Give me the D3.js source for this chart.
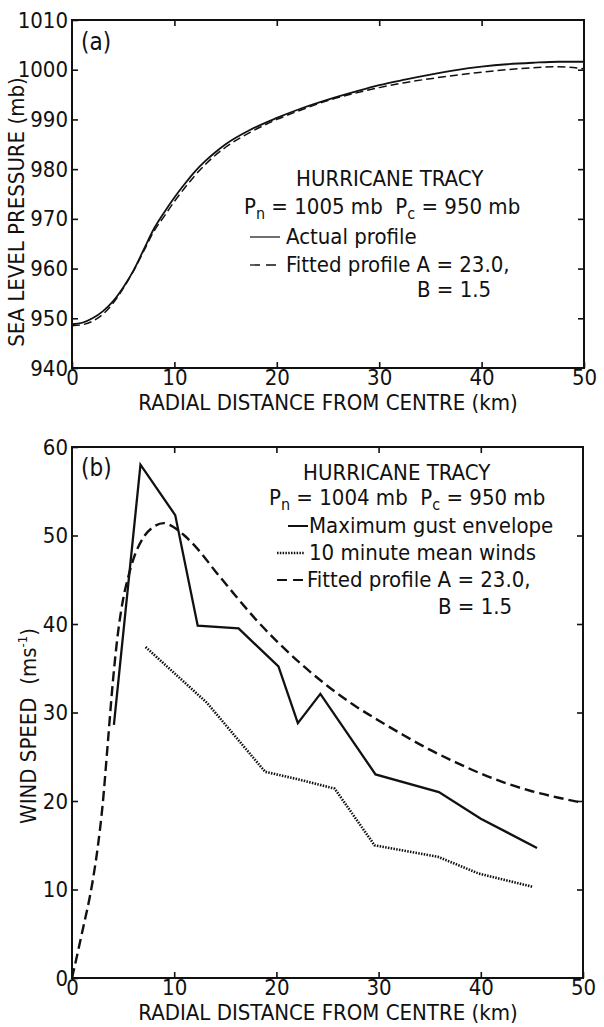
<!DOCTYPE html>
<html>
<head>
<meta charset="utf-8">
<script src="https://cdn.jsdelivr.net/npm/d3@7"></script>
<style>
  body { margin: 0; background: #fff; }
  svg text { font-family: "DejaVu Sans Condensed", "Liberation Sans Narrow", "Liberation Sans", sans-serif; fill: #111; white-space: pre; }
</style>
</head>
<body>
<div id="wrapper"></div>
<script>
// ---- data ----
// (a) sea level pressure profile
const pressureRadius = [0, 1, 2, 3, 4, 5, 6, 7, 8, 9, 10, 11, 12, 13, 14, 15, 17.5, 20, 22.5, 25, 27.5, 30, 32.5, 35, 37.5, 40, 42.5, 45, 47.5, 50]
const pressureActual = [948.8, 949.1, 950.0, 951.4, 953.4, 956.2, 959.6, 963.8, 968.0, 971.3, 974.3, 977.0, 979.5, 981.6, 983.4, 985.0, 988.0, 990.3, 992.3, 994.0, 995.5, 996.9, 998.0, 999.0, 999.9, 1000.6, 1001.1, 1001.4, 1001.6, 1001.6]
const pressureFitted = [948.5, 948.7, 949.4, 950.8, 953.0, 956.0, 959.5, 963.5, 967.5, 970.5, 973.5, 976.2, 978.7, 980.9, 982.8, 984.4, 987.5, 990.0, 992.0, 993.8, 995.2, 996.4, 997.4, 998.2, 998.9, 999.5, 1000.0, 1000.4, 1000.6, 1000.2]

// (b) wind speed profile
const gustRadius = [4.1, 6.7, 10.1, 12.3, 16.3, 20.2, 22.1, 24.3, 29.7, 35.9, 40.0, 45.5]
const gustSpeed = [28.6, 58.0, 52.3, 39.8, 39.5, 35.2, 28.8, 32.1, 23.0, 21.0, 18.0, 14.7]
const meanRadius = [7.2, 13.2, 18.9, 22.3, 25.7, 29.6, 35.8, 39.8, 45.1]
const meanSpeed = [37.4, 31.1, 23.3, 22.4, 21.4, 15.0, 13.7, 11.8, 10.3]
const fitRadius = [0, 1, 2, 2.5, 3, 3.5, 4, 4.5, 5, 5.5, 6, 7, 8, 9, 10, 11, 12.5, 14, 16, 18, 20, 22.5, 25, 27.5, 30, 32.5, 35, 37.5, 40, 42.5, 45, 47.5, 50]
const fitSpeed = [0, 5.2, 10.8, 14.6, 19.6, 26.5, 33.5, 39.0, 42.8, 45.3, 47.3, 49.8, 51.0, 51.4, 50.9, 50.0, 48.2, 46.0, 43.2, 40.5, 38.1, 35.4, 33.0, 30.9, 29.1, 27.4, 25.8, 24.4, 23.1, 22.0, 21.1, 20.4, 19.8]

const distanceTicks = [0, 10, 20, 30, 40, 50]
const pressureTicks = [940, 950, 960, 970, 980, 990, 1000, 1010]
const speedTicks = [0, 10, 20, 30, 40, 50, 60]

// ---- canvas ----
const width = 604
const height = 1027
const fontSize = 22

const svg = d3.select("#wrapper")
    .append("svg")
        .attr("width", width)
        .attr("height", height)

function drawFrame(g, xScale, yScale, w, h, yTicks) {
    // inward ticks on all four sides
    g.append("g")
        .call(d3.axisLeft(yScale).tickValues(yTicks).tickSize(-6).tickPadding(4).tickFormat(d3.format("d")))
    const bottom = g.append("g")
        .attr("transform", `translate(0,${h})`)
        .call(d3.axisBottom(xScale).tickValues(distanceTicks).tickSize(-6).tickPadding(4))
    g.append("g")
        .attr("transform", `translate(${w},0)`)
        .call(d3.axisRight(yScale).tickValues(yTicks.slice(1, -1)).tickSize(-6).tickFormat(""))
    g.append("g")
        .call(d3.axisTop(xScale).tickValues(distanceTicks.slice(1, -1)).tickSize(-6).tickFormat(""))

    g.selectAll(".domain").remove()
    g.selectAll(".tick line").attr("stroke", "#111").attr("stroke-width", 1.6)
    g.selectAll(".tick text")
        .attr("font-size", fontSize)
        .attr("font-family", null)
    bottom.selectAll(".tick text").attr("dy", "0.6em")

    g.append("rect")
        .attr("width", w)
        .attr("height", h)
        .attr("fill", "none")
        .attr("stroke", "#111")
        .attr("stroke-width", 2)
}

function legendLine(g, x1, x2, y, dash, sw) {
    g.append("line")
        .attr("x1", x1).attr("x2", x2)
        .attr("y1", y).attr("y2", y)
        .attr("stroke", "#111")
        .attr("stroke-width", sw)
        .attr("stroke-dasharray", dash)
}

function pressureLabel(g, x, y, pn) {
    const t = g.append("text").attr("x", x).attr("y", y).attr("font-size", fontSize)
    t.append("tspan").text("P")
    t.append("tspan").attr("font-size", 16).attr("dy", 5).text("n")
    t.append("tspan").attr("dy", -5).text(` = ${pn} mb  P`)
    t.append("tspan").attr("font-size", 16).attr("dy", 5).text("c")
    t.append("tspan").attr("dy", -5).text(" = 950 mb")
}

// ---- panel (a) ----
const a = { left: 72, top: 20, right: 584, bottom: 368 }
const aW = a.right - a.left
const aH = a.bottom - a.top
const boundsA = svg.append("g").attr("transform", `translate(${a.left},${a.top})`)

const xA = d3.scaleLinear().domain([0, 50]).range([0, aW])
const yA = d3.scaleLinear().domain([940, 1010]).range([aH, 0])

const pressureLine = d3.line()
    .x(d => xA(d[0]))
    .y(d => yA(d[1]))
    .curve(d3.curveMonotoneX)

boundsA.append("path")
    .attr("d", pressureLine(d3.zip(pressureRadius, pressureFitted)))
    .attr("fill", "none")
    .attr("stroke", "#111")
    .attr("stroke-width", 1.5)
    .attr("stroke-dasharray", "8,4")
boundsA.append("path")
    .attr("d", pressureLine(d3.zip(pressureRadius, pressureActual)))
    .attr("fill", "none")
    .attr("stroke", "#111")
    .attr("stroke-width", 1.8)

drawFrame(boundsA, xA, yA, aW, aH, pressureTicks)

svg.append("text").attr("x", 81).attr("y", 50).attr("font-size", 24).text("(a)")
svg.append("text").attr("x", 296).attr("y", 186).attr("font-size", fontSize).text("HURRICANE TRACY")
pressureLabel(svg, 244, 214, 1005)
legendLine(svg, 250, 280, 237, null, 1.2)
svg.append("text").attr("x", 286).attr("y", 244).attr("font-size", fontSize).text("Actual profile")
legendLine(svg, 250, 282, 265, "10,6", 1.3)
svg.append("text").attr("x", 286).attr("y", 272).attr("font-size", fontSize).text("Fitted profile A = 23.0,")
svg.append("text").attr("x", 417).attr("y", 297).attr("font-size", fontSize).text("B = 1.5")

svg.append("text")
    .attr("transform", "rotate(-90)")
    .attr("x", -212)
    .attr("y", 24)
    .attr("text-anchor", "middle")
    .attr("font-size", fontSize)
    .text("SEA LEVEL PRESSURE (mb)")
svg.append("text")
    .attr("x", 328)
    .attr("y", 410)
    .attr("text-anchor", "middle")
    .attr("font-size", fontSize)
    .text("RADIAL DISTANCE FROM CENTRE (km)")

// ---- panel (b) ----
const b = { left: 72, top: 447, right: 583, bottom: 978 }
const bW = b.right - b.left
const bH = b.bottom - b.top
const boundsB = svg.append("g").attr("transform", `translate(${b.left},${b.top})`)

const xB = d3.scaleLinear().domain([0, 50]).range([0, bW])
const yB = d3.scaleLinear().domain([0, 60]).range([bH, 0])

const windLine = d3.line()
    .x(d => xB(d[0]))
    .y(d => yB(d[1]))
const windCurve = d3.line()
    .x(d => xB(d[0]))
    .y(d => yB(d[1]))
    .curve(d3.curveMonotoneX)

boundsB.append("path")
    .attr("d", windCurve(d3.zip(fitRadius, fitSpeed)))
    .attr("fill", "none")
    .attr("stroke", "#111")
    .attr("stroke-width", 2.4)
    .attr("stroke-dasharray", "10,5")
boundsB.append("path")
    .attr("d", windLine(d3.zip(meanRadius, meanSpeed)))
    .attr("fill", "none")
    .attr("stroke", "#111")
    .attr("stroke-width", 2.6)
    .attr("stroke-dasharray", "1.5,1.3")
boundsB.append("path")
    .attr("d", windLine(d3.zip(gustRadius, gustSpeed)))
    .attr("fill", "none")
    .attr("stroke", "#111")
    .attr("stroke-width", 2.3)

drawFrame(boundsB, xB, yB, bW, bH, speedTicks)

svg.append("text").attr("x", 81).attr("y", 476).attr("font-size", 24).text("(b)")
svg.append("text").attr("x", 303).attr("y", 480).attr("font-size", fontSize).text("HURRICANE TRACY")
pressureLabel(svg, 269, 505, 1004)
legendLine(svg, 288, 308, 526, null, 2)
svg.append("text").attr("x", 309).attr("y", 533).attr("font-size", fontSize).text("Maximum gust envelope")
legendLine(svg, 277, 305, 553, "1.5,1.3", 2.6)
svg.append("text").attr("x", 309).attr("y", 560).attr("font-size", fontSize).text("10 minute mean winds")
legendLine(svg, 277, 304, 580, "10,6", 2)
svg.append("text").attr("x", 307).attr("y", 587).attr("font-size", fontSize).text("Fitted profile A = 23.0,")
svg.append("text").attr("x", 438).attr("y", 614).attr("font-size", fontSize).text("B = 1.5")

const yTitleB = svg.append("text")
    .attr("transform", "rotate(-90)")
    .attr("x", -726)
    .attr("y", 36)
    .attr("text-anchor", "middle")
    .attr("font-size", fontSize)
yTitleB.append("tspan").text("WIND SPEED  (ms")
yTitleB.append("tspan").attr("font-size", 13).attr("dy", -9).text("-1")
yTitleB.append("tspan").attr("dy", 9).text(")")

svg.append("text")
    .attr("x", 328)
    .attr("y", 1020)
    .attr("text-anchor", "middle")
    .attr("font-size", fontSize)
    .text("RADIAL DISTANCE FROM CENTRE (km)")
</script>
</body>
</html>
